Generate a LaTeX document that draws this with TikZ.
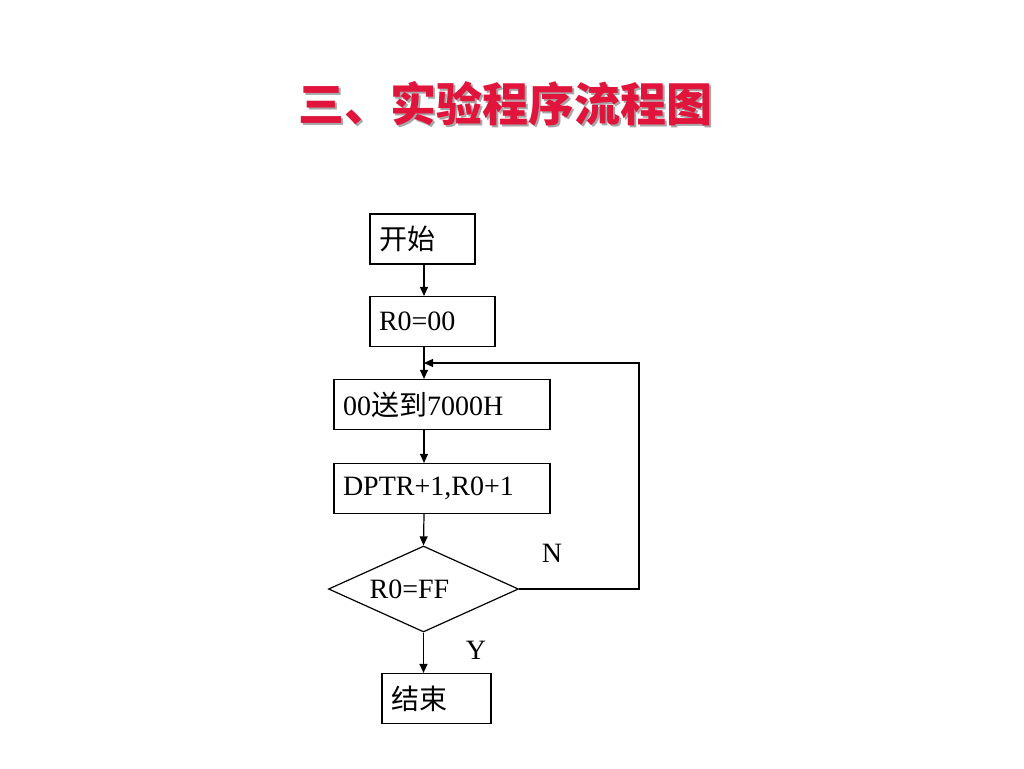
\documentclass[tikz,border=0pt]{standalone}
\usepackage{fontspec}
\setmainfont{Liberation Serif}
\newfontfamily\cjk{Noto Sans CJK SC}
\usetikzlibrary{arrows.meta,shapes.geometric}
\definecolor{titlered}{RGB}{225,20,60}
\begin{document}
\begin{tikzpicture}[x=1pt,y=-1pt,
		box/.style={draw,line width=1.2pt,minimum height=50pt,inner xsep=9pt,inner ysep=0pt,text width=#1,align=left},
		test/.style={draw,line width=1.2pt,diamond,minimum width=190pt,minimum height=86pt,inner sep=0pt},
		flow/.style={line width=1.2pt,-{Triangle[length=9pt,width=8pt]}},
		font=\fontsize{28}{32}\selectfont]
		\useasboundingbox[fill=white](0,0)rectangle(1024,768);
		\def\titletext{\cjk\bfseries 三、实验程序流程图}%

		\node(titleshadow)[text=black!35,font=\fontsize{46}{50}\selectfont]at(507,106){\titletext};
		\node(title)[text=titlered,font=\fontsize{46}{50}\selectfont]at(505,104){\titletext};

		\coordinate(spine)at(424,0);
		\coordinate(back)at(639,363);

		\node(start)[box=87pt]at(422.5,239){\cjk 开始};
		\node(init)[box=107pt]at(432.5,321.5){R0=00};
		\node(move)[box=198pt]at(442,404.5){00{\cjk 送到}7000H};
		\node(incr)[box=198pt]at(442,488.5){DPTR+1,R0+1};
		\node(test)[test]at(423.5,589){\hspace*{-28pt}R0=FF};
		\node(stop)[box=91pt]at(436.5,698.5){\cjk 结束};
		\node(no)at(552,553){N};
		\node(yes)at(476,650){Y};

		\begin{scope}[flow]
			\draw(start.south-|spine)--(init.north-|spine);
			\draw(init.south-|spine)--(move.north-|spine);
			\draw(move.south-|spine)--(incr.north-|spine);
			\draw(incr.south-|spine)--(test.north);
			\draw(test.south)--(stop.north-|test.south);
			\draw(test.east)--(test.east-|back)--(back)--(back-|spine);
		\end{scope}
	\end{tikzpicture}
\end{document}
